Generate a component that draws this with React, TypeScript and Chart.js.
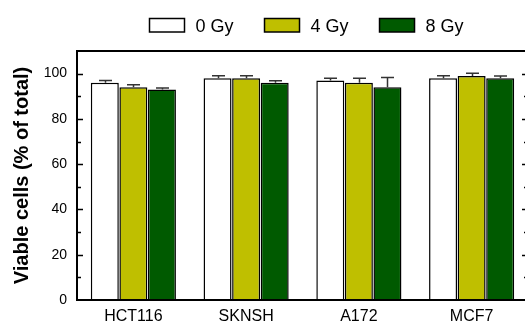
import React, { useEffect, useRef } from "react";
import { Chart, registerables } from "chart.js";

Chart.register(...registerables);

const categories = ["HCT116", "SKNSH", "A172", "MCF7"];
const seriesLabels = ["0 Gy", "4 Gy", "8 Gy"];
const gy0 = [96, 98, 97, 98];
const gy4 = [94, 98, 96, 99];
const gy8 = [93, 96, 94, 98];
const err0 = [1, 1.1, 1, 1.1];
const err4 = [1.1, 1.1, 2, 1.2];
const err8 = [0.6, 0.9, 4.3, 1];
const yTickValues = [0, 20, 40, 60, 80, 100];

const FONT = "'Liberation Sans', Arial, sans-serif";
const fills = ["#FFFFFF", "#BFBF00", "#005A00"];

export default function App() {
  const ref = useRef<HTMLCanvasElement | null>(null);

  useEffect(() => {
    const canvas = ref.current;
    if (!canvas) return;
    const errs = [err0, err4, err8];

    const framePlugin = {
      id: "frameAndTicks",
      afterDraw(chart: any) {
        const { ctx, chartArea } = chart;
        const y = chart.scales.y;
        ctx.save();
        ctx.strokeStyle = "#000";
        ctx.lineWidth = 2;
        ctx.strokeRect(chartArea.left, chartArea.top, chartArea.right - chartArea.left, chartArea.bottom - chartArea.top);
        ctx.lineWidth = 1.5;
        for (let v = 10; v <= 100; v += 10) {
          const py = Math.round(y.getPixelForValue(v)) + 0.5;
          const len = v % 20 === 0 ? 6 : 4;
          ctx.beginPath();
          ctx.moveTo(chartArea.left, py);
          ctx.lineTo(chartArea.left + len, py);
          ctx.moveTo(chartArea.right, py);
          ctx.lineTo(chartArea.right - len, py);
          ctx.stroke();
        }
        ctx.restore();
      },
    };

    const errorPlugin = {
      id: "errorBars",
      afterDatasetsDraw(chart: any) {
        const { ctx } = chart;
        const y = chart.scales.y;
        ctx.save();
        ctx.strokeStyle = "#333";
        ctx.lineWidth = 1.5;
        chart.data.datasets.forEach((ds: any, i: number) => {
          const meta = chart.getDatasetMeta(i);
          meta.data.forEach((el: any, j: number) => {
            const val = ds.data[j];
            const top = y.getPixelForValue(val + errs[i][j]);
            const x = Math.round(el.x) + 0.5;
            ctx.beginPath();
            ctx.moveTo(x, el.y);
            ctx.lineTo(x, top);
            ctx.moveTo(x - 6.5, top);
            ctx.lineTo(x + 6.5, top);
            ctx.stroke();
          });
        });
        ctx.restore();
      },
    };

    const legendPlugin = {
      id: "customLegend",
      afterDraw(chart: any) {
        const { ctx, chartArea } = chart;
        ctx.save();
        ctx.font = `18px ${FONT}`;
        ctx.textBaseline = "alphabetic";
        ctx.textAlign = "left";
        let x = chartArea.left + 72.5;
        chart.data.datasets.forEach((ds: any) => {
          ctx.fillStyle = ds.backgroundColor;
          ctx.fillRect(x, 18.5, 35, 13.5);
          ctx.strokeStyle = "#000";
          ctx.lineWidth = 1.5;
          ctx.strokeRect(x, 18.5, 35, 13.5);
          ctx.fillStyle = "#000";
          ctx.fillText(ds.label, x + 46, 31.5);
          const tw = ctx.measureText(ds.label).width;
          x += 36 + 9 + tw + 32;
        });
        ctx.restore();
      },
    };

    const chart = new Chart(canvas, {
      type: "bar",
      data: {
        labels: categories,
        datasets: [gy0, gy4, gy8].map((d, i) => ({
          label: seriesLabels[i],
          data: d,
          backgroundColor: fills[i],
          borderColor: "#000",
          borderWidth: 1.5,
          categoryPercentage: 0.76,
          barPercentage: 0.98,
        })),
      },
      options: {
        animation: false,
        responsive: false,
        maintainAspectRatio: false,
        devicePixelRatio: 1,
        layout: { padding: { top: 51, right: 12, left: 0, bottom: 0 } },
        plugins: {
          legend: { display: false },
          tooltip: { enabled: false },
        },
        scales: {
          x: {
            grid: { display: false, drawTicks: false },
            border: { display: false },
            ticks: { color: "#000", font: { family: FONT, size: 16 }, padding: 7 },
            afterFit(scale: any) {
              scale.height = 25;
            },
          },
          y: {
            min: 0,
            max: 110,
            grid: { display: false, drawTicks: false },
            border: { display: false },
            afterBuildTicks(scale: any) {
              scale.ticks = yTickValues.map((v) => ({ value: v }));
            },
            ticks: { color: "#000", font: { family: FONT, size: 14 }, padding: 10 },
            title: {
              display: true,
              text: "Viable cells (% of total)",
              color: "#000",
              font: { family: FONT, size: 20, weight: "bold" },
              padding: { top: 10, bottom: 0 },
            },
            afterFit(scale: any) {
              scale.width = 77;
            },
          },
        },
      },
      plugins: [errorPlugin, framePlugin, legendPlugin],
    });
    return () => chart.destroy();
  }, []);

  return (
    <div style={{ position: "fixed", left: 0, top: 0, width: 525, height: 325, overflow: "hidden", background: "#fff" }}>
      <canvas ref={ref} width={540} height={325} style={{ display: "block" }} />
    </div>
  );
}
